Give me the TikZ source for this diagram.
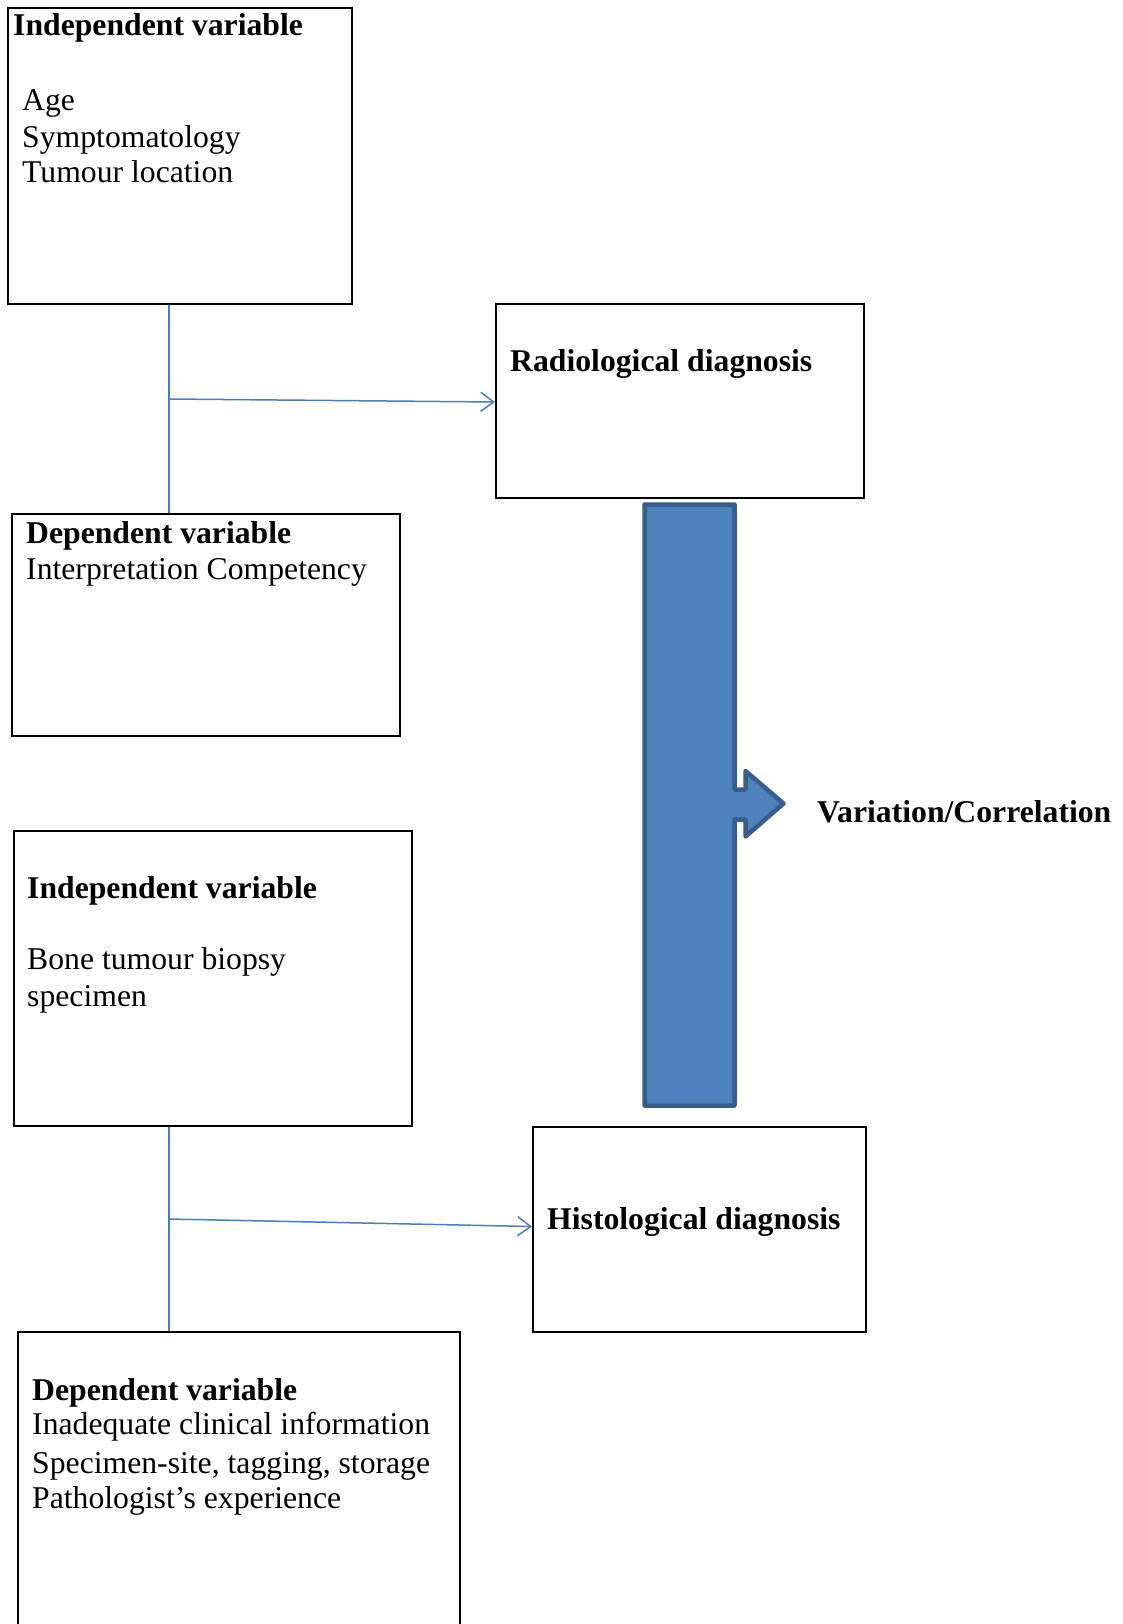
\documentclass[tikz,border=0pt]{standalone}
\usepackage{fontspec}
\setmainfont{Liberation Serif}
\usetikzlibrary{arrows.meta}
\definecolor{lnblue}{HTML}{4A7EBB}
\definecolor{barfill}{HTML}{4F81BD}
\definecolor{barline}{HTML}{385D8A}
\begin{document}
\begin{tikzpicture}[x=1pt,y=-1pt,
  box/.style={draw=black, line width=2pt, inner sep=0pt, anchor=north west},
  txt/.style={anchor=base west, inner sep=0pt, font=\fontsize{31.7}{36}\selectfont},
  hd/.style={anchor=base west, inner sep=0pt, font=\fontsize{31.7}{36}\selectfont\bfseries},
  link/.style={draw=lnblue, line width=1.5pt},
  tip/.style={-{Straight Barb[length=13pt,width=19pt,line width=1.5pt]}}]
\useasboundingbox (0,0) rectangle (1122,1624);
\clip (0,0) rectangle (1122,1624);
\fill[white] (0,0) rectangle (1122,1624);

% boxes
\node[box, minimum width=344pt, minimum height=296pt] (ind1) at (7,7) {};
\node[box, minimum width=368pt, minimum height=194pt] (radio) at (495,303) {};
\node[box, minimum width=388pt, minimum height=222pt] (dep1) at (11,513) {};
\node[box, minimum width=398pt, minimum height=295pt] (ind2) at (13,830) {};
\node[box, minimum width=333pt, minimum height=205pt] (hist) at (532,1126) {};
\node[box, minimum width=442pt, minimum height=330pt] (dep2) at (17,1331) {};

% texts
\node[hd] (t1) at (13,36) {Independent variable};
\node[txt] (t1a) at (22,111) {Age};
\node[txt] (t1b) at (22,148) {Symptomatology};
\node[txt] (t1c) at (22,183) {Tumour location};

\node[hd] (t2) at (510,371) {Radiological diagnosis};

\node[hd] (t3) at (26,543) {Dependent variable};
\node[txt] (t3a) at (26,579) {Interpretation Competency};

\node[hd] (t4) at (27,898) {Independent variable};
\node[txt] (t4a) at (27,969) {Bone tumour biopsy};
\node[txt] (t4b) at (27,1006) {specimen};

\node[hd] (t5) at (547,1229) {Histological diagnosis};

\node[hd] (t6) at (32,1400) {Dependent variable};
\node[txt] (t6a) at (32,1434) {Inadequate clinical information};
\node[txt] (t6b) at (32,1473) {Specimen-site, tagging, storage};
\node[txt] (t6c) at (32,1508) {Pathologist’s experience};

% connectors
\coordinate (j1) at (169,399);
\coordinate (j2) at (169,1219);
\draw[link] (ind1.south -| j1) -- (dep1.north -| j1);
\draw[link, tip] (j1) -- ([yshift=-1pt]radio.west);
\draw[link] (ind2.south -| j2) -- (dep2.north -| j2);
\draw[link, tip] (j2) -- ([yshift=3pt]hist.west);

% block arrow
\draw[fill=barfill, draw=barline, line width=4.5pt, line join=round]
  (644.5,504.5) -- (734.5,504.5) -- (734.5,789.5) -- (745.5,789.5)
  -- (745.5,771) -- (783.5,803.5) -- (745.5,836.5) -- (745.5,819.5)
  -- (734.5,819.5) -- (734.5,1105.5) -- (644.5,1105.5) -- cycle;

\node[hd] (t7) at (817,822) {Variation/Correlation};
\end{tikzpicture}
\end{document}
